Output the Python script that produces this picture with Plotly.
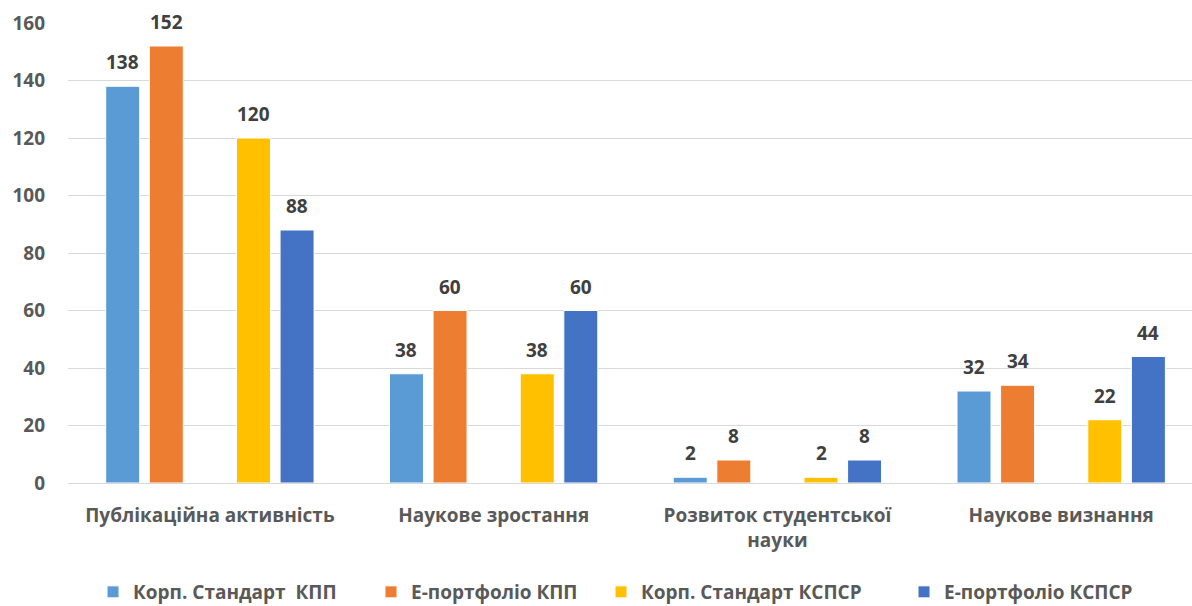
import plotly.graph_objects as go

categories = ["Публікаційна активність", "Наукове зростання", "Розвиток студентської<br>науки", "Наукове визнання"]
series_names = ["Корп. Стандарт  КПП", "Е-портфоліо КПП", "Корп. Стандарт КСПСР", "Е-портфоліо КСПСР"]
korp_kpp = [138, 38, 2, 32]
eport_kpp = [152, 60, 8, 34]
korp_kspsr = [120, 38, 2, 22]
eport_kspsr = [88, 60, 8, 44]
colors = ["#5B9BD5", "#ED7D31", "#FFC000", "#4472C4"]
y_ticks = [0, 20, 40, 60, 80, 100, 120, 140, 160]
series = [korp_kpp, eport_kpp, korp_kspsr, eport_kspsr]
slots = [0, 1, 3, 4]          # slot 2 is an empty gap in each group
legend_x_px = [93, 371, 601, 904]

FONT = "Open Sans"
W = "bold"
BARGAP = 0.232
L, R, T, B = 68, 0, 23, 123
PLOT_W = 1192 - L - R
X_RANGE = [-0.5, 3.461]
cat_px = PLOT_W / (X_RANGE[1] - X_RANGE[0])
slot_px = cat_px * (1 - BARGAP) / 5

fig = go.Figure()
leg_names = ["legend", "legend2", "legend3", "legend4"]

for i in range(4):
    if i == 2:
        fig.add_trace(go.Bar(x=categories, y=[0, 0, 0, 0], showlegend=False,
                             marker=dict(opacity=0), hoverinfo="skip"))
    fig.add_trace(go.Bar(
        x=categories, y=series[i], name=series_names[i], legend=leg_names[i],
        marker=dict(color=colors[i], line=dict(color="white", width=1)),
    ))
    for c, v in zip(categories, series[i]):
        fig.add_annotation(x=c, y=v, text=str(v), showarrow=False,
                           xshift=(slots[i] - 2) * slot_px, yshift=24, yanchor="middle",
                           font=dict(family=FONT, size=19, color="#404040", weight=W))

legend_common = dict(orientation="h", yref="container", y=(606 - 592) / 606, yanchor="middle",
                     xref="container", xanchor="left",
                     font=dict(family=FONT, size=19, color="#595959", weight=W),
                     bgcolor="rgba(0,0,0,0)")
layout_legends = {}
for i, ln in enumerate(leg_names):
    layout_legends[ln] = dict(legend_common, x=legend_x_px[i] / 1192)

fig.update_layout(
    width=1192, height=606,
    margin=dict(l=L, r=R, t=T, b=B),
    paper_bgcolor="white", plot_bgcolor="white",
    barmode="group", bargap=BARGAP, bargroupgap=0.22,
    font=dict(family=FONT, color="#595959", size=19, weight=W),
    xaxis=dict(showline=False, tickfont=dict(size=19, color="#595959", weight=W),
               ticks="", ticklabelstandoff=19, automargin=False, range=X_RANGE),
    yaxis=dict(range=[0, 160], tickvals=y_ticks, showgrid=True, gridcolor="#D9D9D9",
               gridwidth=1, zeroline=True, zerolinecolor="#D9D9D9", zerolinewidth=1,
               tickfont=dict(size=19, color="#595959", weight=W), ticklabelstandoff=22,
               automargin=False),
    showlegend=True,
    **layout_legends,
)

fig.write_html("out.html", config={"displayModeBar": False},
               post_script="document.body.style.margin='0';")
